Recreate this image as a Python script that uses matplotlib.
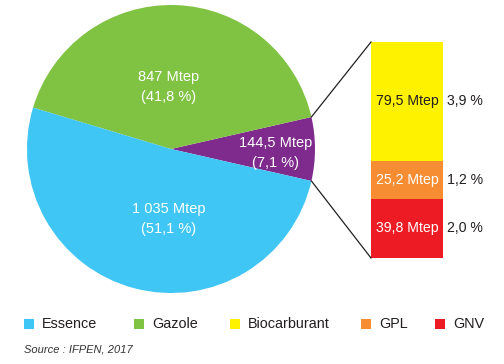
import numpy as np
import matplotlib.pyplot as plt
from matplotlib.patches import Rectangle

# Main split (Mtep), counter-clockwise from the right
pie_labels = ["Autres", "Gazole", "Essence"]
pie_values = [144.5, 847, 1035]
pie_text = ["144,5 Mtep\n(7,1 %)", "847 Mtep\n(41,8 %)", "1 035 Mtep\n(51,1 %)"]
pie_colors = ["#7f2a8d", "#80c242", "#3fc6f4"]

# Detail of the "other" slice, bottom to top
bar_labels = ["GNV", "GPL", "Biocarburant"]
bar_values = [39.8, 25.2, 79.5]
bar_pct = ["2,0 %", "1,2 %", "3,9 %"]
bar_colors = ["#ed1c24", "#f68d33", "#fff200"]
bar_text_colors = ["white", "white", "#231f20"]

legend_labels = ["Essence", "Gazole", "Biocarburant", "GPL", "GNV"]
legend_colors = ["#3fc6f4", "#80c242", "#fff200", "#f68d33", "#ed1c24"]

W, H = 504, 364
plt.rcParams["font.family"] = ["Liberation Sans", "DejaVu Sans"]
TXT = "#231f20"

fig = plt.figure(figsize=(W / 100, H / 100), dpi=100)
ax = fig.add_axes([0, 0, 1, 1])


def Y(y):
    # image row -> data y
    return H - y


cx, cy, r = 171, Y(149), 144
total = sum(pie_values)
start = -0.5 * pie_values[0] / total * 360
ax.pie(pie_values, colors=pie_colors, startangle=start, center=(cx, cy),
       radius=r, wedgeprops={"linewidth": 0}, frame=True)

# pie labels
label_pos = [(275.5, 143.5, 163), (168.5, 76.5, 96.5), (169, 209, 229)]
for txt, (x, y1, y2) in zip(pie_text, label_pos):
    l1, l2 = txt.split("\n")
    ax.text(x, Y(y1), l1, color="white", fontsize=10.5, ha="center", va="center")
    ax.text(x, Y(y2), l2, color="white", fontsize=10.5, ha="center", va="center")

# stacked bar
bx, bw = 407, 72
bar_bottom, bar_top = Y(258), Y(42)
scale = (bar_top - bar_bottom) / sum(bar_values)
bottom = bar_bottom
for v, c, tc, pct in zip(bar_values, bar_colors, bar_text_colors, bar_pct):
    h = v * scale
    ax.bar(bx, h, width=bw, bottom=bottom, color=c, linewidth=0)
    mid = bottom + h / 2
    ax.text(bx, mid, f"{v:.1f}".replace(".", ",") + " Mtep", color=tc,
            fontsize=10.2, ha="center", va="center")
    ax.text(447, mid, pct, color=TXT, fontsize=10.2, ha="left", va="center")
    bottom += h

# connector lines from the slice edges to the bar corners
a = np.deg2rad(start)
for ang, by in [(-a, bar_top), (a, bar_bottom)]:
    px, py = cx + r * np.cos(ang), cy + r * np.sin(ang)
    ax.plot([px, bx - bw / 2], [py, by], color="#231f20", lw=0.9)

# legend
leg_x = [24, 134, 230, 361, 435]
for x, lab, c in zip(leg_x, legend_labels, legend_colors):
    ax.add_patch(Rectangle((x, Y(329)), 10, 10, color=c, lw=0))
    ax.text(x + 18, Y(324), lab, color=TXT, fontsize=10.4, ha="left", va="center")

ax.text(24, Y(349), "Source : IFPEN, 2017", color="#333333", fontsize=8,
        style="italic", ha="left", va="center")

ax.set_xlim(0, W)
ax.set_ylim(0, H)
ax.set_aspect("equal")
ax.axis("off")

fig.savefig("out.png", dpi=100)
